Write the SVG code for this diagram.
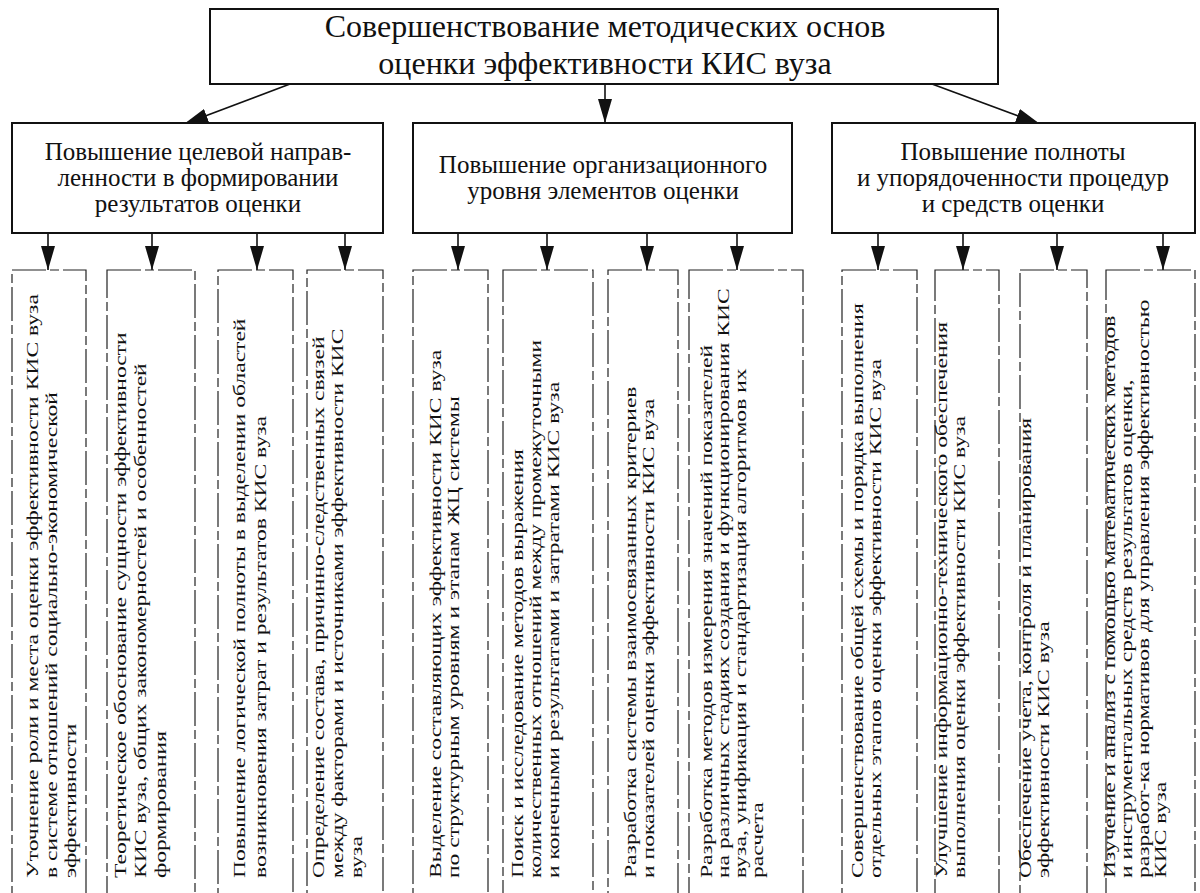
<svg xmlns="http://www.w3.org/2000/svg" width="1200" height="893" viewBox="0 0 1200 893">
<style>
.box{fill:#fff;stroke:#111;stroke-width:2}
.col{fill:none;stroke:#222;stroke-width:1.2;stroke-dasharray:34 4 9 4}
.t{font-family:"Liberation Serif","Times New Roman",serif;fill:#111}
.title{font-size:32px;text-anchor:middle}
.mid{font-size:25px;text-anchor:middle}
.ct{font-size:16.5px}
.ln{stroke:#111;stroke-width:1.6;fill:none}
</style>
<defs>
<marker id="ah" viewBox="0 0 24 14" refX="24" refY="7" markerWidth="24" markerHeight="14" markerUnits="userSpaceOnUse" orient="auto">
<path d="M0,0 L24,7 L0,14 Z" fill="#111"/>
</marker>
</defs>
<rect width="1200" height="893" fill="#fff"/>

<g id="connectors">
<line class="ln" x1="605" y1="84" x2="605" y2="123" marker-end="url(#ah)"/>
<line class="ln" x1="290" y1="84" x2="184" y2="124" marker-end="url(#ah)"/>
<line class="ln" x1="932" y1="84" x2="1040" y2="124" marker-end="url(#ah)"/>
<line class="ln" x1="48" y1="233" x2="48" y2="270" marker-end="url(#ah)"/>
<line class="ln" x1="152" y1="233" x2="152" y2="270" marker-end="url(#ah)"/>
<line class="ln" x1="257" y1="233" x2="257" y2="270" marker-end="url(#ah)"/>
<line class="ln" x1="345" y1="233" x2="345" y2="270" marker-end="url(#ah)"/>
<line class="ln" x1="458" y1="233" x2="458" y2="270" marker-end="url(#ah)"/>
<line class="ln" x1="547" y1="233" x2="547" y2="270" marker-end="url(#ah)"/>
<line class="ln" x1="647" y1="233" x2="647" y2="270" marker-end="url(#ah)"/>
<line class="ln" x1="737" y1="233" x2="737" y2="270" marker-end="url(#ah)"/>
<line class="ln" x1="878" y1="233" x2="878" y2="270" marker-end="url(#ah)"/>
<line class="ln" x1="963" y1="233" x2="963" y2="270" marker-end="url(#ah)"/>
<line class="ln" x1="1057" y1="233" x2="1057" y2="270" marker-end="url(#ah)"/>
<line class="ln" x1="1163" y1="233" x2="1163" y2="270" marker-end="url(#ah)"/>
</g>

<g id="root">
<rect class="box" x="210" y="9" width="788" height="75"/>
<text class="t title" x="605" y="37">Совершенствование методических основ</text>
<text class="t title" x="605" y="74">оценки эффективности КИС вуза</text>
</g>

<g id="branch-1">
<rect class="box" x="12" y="123" width="371" height="110"/>
<text class="t mid" x="198" y="160">Повышение целевой направ-</text>
<text class="t mid" x="198" y="186">ленности в формировании</text>
<text class="t mid" x="198" y="212">результатов оценки</text>
</g>
<g id="branch-2">
<rect class="box" x="413" y="123" width="379" height="110"/>
<text class="t mid" x="603" y="173">Повышение организационного</text>
<text class="t mid" x="603" y="199">уровня элементов оценки</text>
</g>
<g id="branch-3">
<rect class="box" x="832" y="123" width="363" height="110"/>
<text class="t mid" x="1013" y="160">Повышение полноты</text>
<text class="t mid" x="1013" y="186">и упорядоченности процедур</text>
<text class="t mid" x="1013" y="212">и средств оценки</text>
</g>

<g id="c1">
<rect class="col" x="12" y="270" width="74" height="640"/>
<text class="t ct" transform="translate(38,878) rotate(-90) scale(1.43,1)"><tspan x="0" y="0">Уточнение роли и места оценки эффективности КИС вуза</tspan><tspan x="0" dy="19">в системе отношений социально-экономической</tspan><tspan x="0" dy="19">эффективности</tspan></text>
</g>
<g id="c2">
<rect class="col" x="107" y="270" width="88" height="640"/>
<text class="t ct" transform="translate(126,878) rotate(-90) scale(1.43,1)"><tspan x="0" y="0">Теоретическое обоснование сущности эффективности</tspan><tspan x="0" dy="20">КИС вуза, общих закономерностей и особенностей</tspan><tspan x="0" dy="20">формирования</tspan></text>
</g>
<g id="c3">
<rect class="col" x="218" y="270" width="75" height="640"/>
<text class="t ct" transform="translate(245,878) rotate(-90) scale(1.43,1)"><tspan x="0" y="0">Повышение логической полноты в выделении областей</tspan><tspan x="0" dy="21">возникновения затрат и результатов КИС вуза</tspan></text>
</g>
<g id="c4">
<rect class="col" x="307" y="270" width="76" height="640"/>
<text class="t ct" transform="translate(324,878) rotate(-90) scale(1.43,1)"><tspan x="0" y="0">Определение состава, причинно-следственных связей</tspan><tspan x="0" dy="19">между факторами и источниками эффективности КИС</tspan><tspan x="0" dy="19">вуза</tspan></text>
</g>
<g id="c5">
<rect class="col" x="413" y="270" width="75" height="640"/>
<text class="t ct" transform="translate(441,878) rotate(-90) scale(1.43,1)"><tspan x="0" y="0">Выделение составляющих эффективности КИС вуза</tspan><tspan x="0" dy="18">по структурным уровням и этапам ЖЦ системы</tspan></text>
</g>
<g id="c6">
<rect class="col" x="503" y="270" width="90" height="640"/>
<text class="t ct" transform="translate(523,878) rotate(-90) scale(1.43,1)"><tspan x="0" y="0">Поиск и исследование методов выражения</tspan><tspan x="0" dy="18">количественных отношений между промежуточными</tspan><tspan x="0" dy="18">и конечными результатами и затратами КИС вуза</tspan></text>
</g>
<g id="c7">
<rect class="col" x="608" y="270" width="70" height="640"/>
<text class="t ct" transform="translate(636,878) rotate(-90) scale(1.43,1)"><tspan x="0" y="0">Разработка системы взаимосвязанных критериев</tspan><tspan x="0" dy="18">и показателей оценки эффективности КИС вуза</tspan></text>
</g>
<g id="c8">
<rect class="col" x="689" y="270" width="114" height="640"/>
<text class="t ct" transform="translate(712,878) rotate(-90) scale(1.43,1)"><tspan x="0" y="0">Разработка методов измерения значений показателей</tspan><tspan x="0" dy="17">на различных стадиях создания и функционирования КИС</tspan><tspan x="0" dy="17">вуза, унификация и стандартизация алгоритмов их</tspan><tspan x="0" dy="17">расчета</tspan></text>
</g>
<g id="c9">
<rect class="col" x="842" y="270" width="75" height="640"/>
<text class="t ct" transform="translate(863,878) rotate(-90) scale(1.43,1)"><tspan x="0" y="0">Совершенствование общей схемы и порядка выполнения</tspan><tspan x="0" dy="18">отдельных этапов оценки эффективности КИС вуза</tspan></text>
</g>
<g id="c10">
<rect class="col" x="935" y="270" width="64" height="640"/>
<text class="t ct" transform="translate(947,878) rotate(-90) scale(1.43,1)"><tspan x="0" y="0">Улучшение информационно-технического обеспечения</tspan><tspan x="0" dy="18">выполнения оценки эффективности КИС вуза</tspan></text>
</g>
<g id="c11">
<rect class="col" x="1020" y="270" width="67" height="640"/>
<text class="t ct" transform="translate(1031,878) rotate(-90) scale(1.43,1)"><tspan x="0" y="0">Обеспечение учета, контроля и планирования</tspan><tspan x="0" dy="18">эффективности КИС вуза</tspan></text>
</g>
<g id="c12">
<rect class="col" x="1106" y="270" width="89" height="640"/>
<text class="t ct" transform="translate(1115,878) rotate(-90) scale(1.43,1)"><tspan x="0" y="0">Изучение и анализ с помощью математических методов</tspan><tspan x="0" dy="17">и инструментальных средств результатов оценки,</tspan><tspan x="0" dy="17">разработ-ка нормативов для управления эффективностью</tspan><tspan x="0" dy="17">КИС вуза</tspan></text>
</g>
</svg>
